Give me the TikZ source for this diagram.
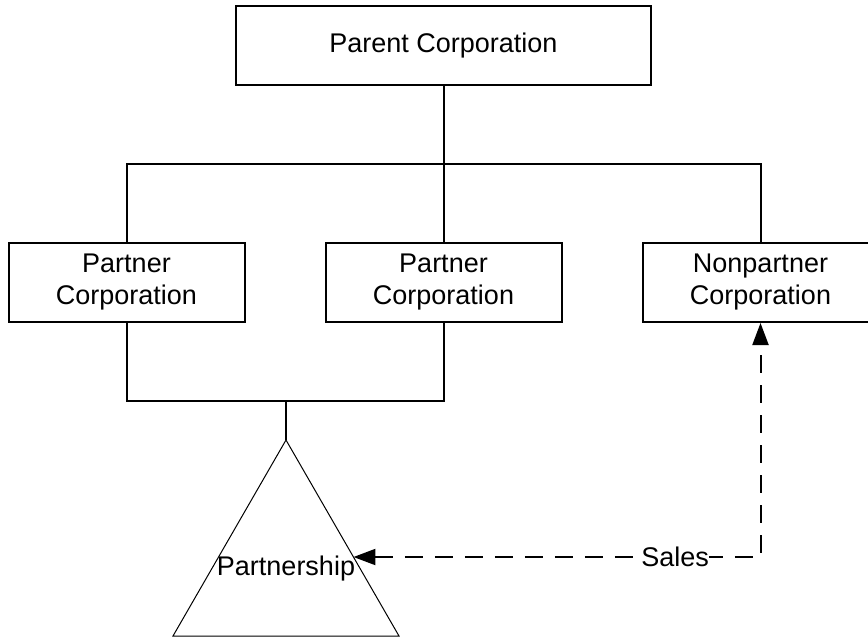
\documentclass[tikz,border=0pt]{standalone}
\usepackage{fontspec}
\setmainfont{Liberation Sans}
\usetikzlibrary{arrows.meta, positioning, calc}

\begin{document}
\begin{tikzpicture}[x=0.5pt, y=-0.5pt, font=\fontsize{13.5}{16}\selectfont, line width=1pt,
    corpbox/.style={draw, rectangle, align=center, line width=1pt, minimum width=118pt, minimum height=39.5pt}]
    \useasboundingbox (0,0) rectangle (868,637);

    \node (parent) [corpbox, minimum width=207.5pt] at (443.5,45.5) {Parent Corporation};
    \node (partnerB) [corpbox, below=78pt of parent] {Partner\\Corporation};
    \node (partnerA) [corpbox, left=39.5pt of partnerB] {Partner\\Corporation};
    \node (nonpartner) [corpbox, right=39.5pt of partnerB] {Nonpartner\\Corporation};

    \coordinate (bus) at ($(parent.south)!0.5!(partnerB.north)$);
    \coordinate (lowbus) at ($(partnerA.south)+(0,78)$);
    \coordinate (apex) at (286,440);

    \draw (parent.south) -- (partnerB.north);
    \draw (partnerA.north) |- (bus) -| (nonpartner.north);

    \draw (partnerA.south) -- (lowbus) -| (partnerB.south);
    \draw (apex) -- (apex |- lowbus);

    \draw[line width=0.5pt] (apex) -- (173,636) -- (399,636) -- cycle;
    \node (partnership) at (286,569) {Partnership};
    \coordinate (tri-east) at ($(apex)!0.597!(399,636)$);

    \draw[dashed, dash pattern=on 9pt off 6pt, {Triangle[length=11pt, width=8pt]}-{Triangle[length=11pt, width=8pt]}]
        (tri-east) -- node[pos=0.79, fill=white, inner sep=0pt] (sales) {Sales} (nonpartner.south |- tri-east) -- (nonpartner.south);
\end{tikzpicture}
\end{document}
